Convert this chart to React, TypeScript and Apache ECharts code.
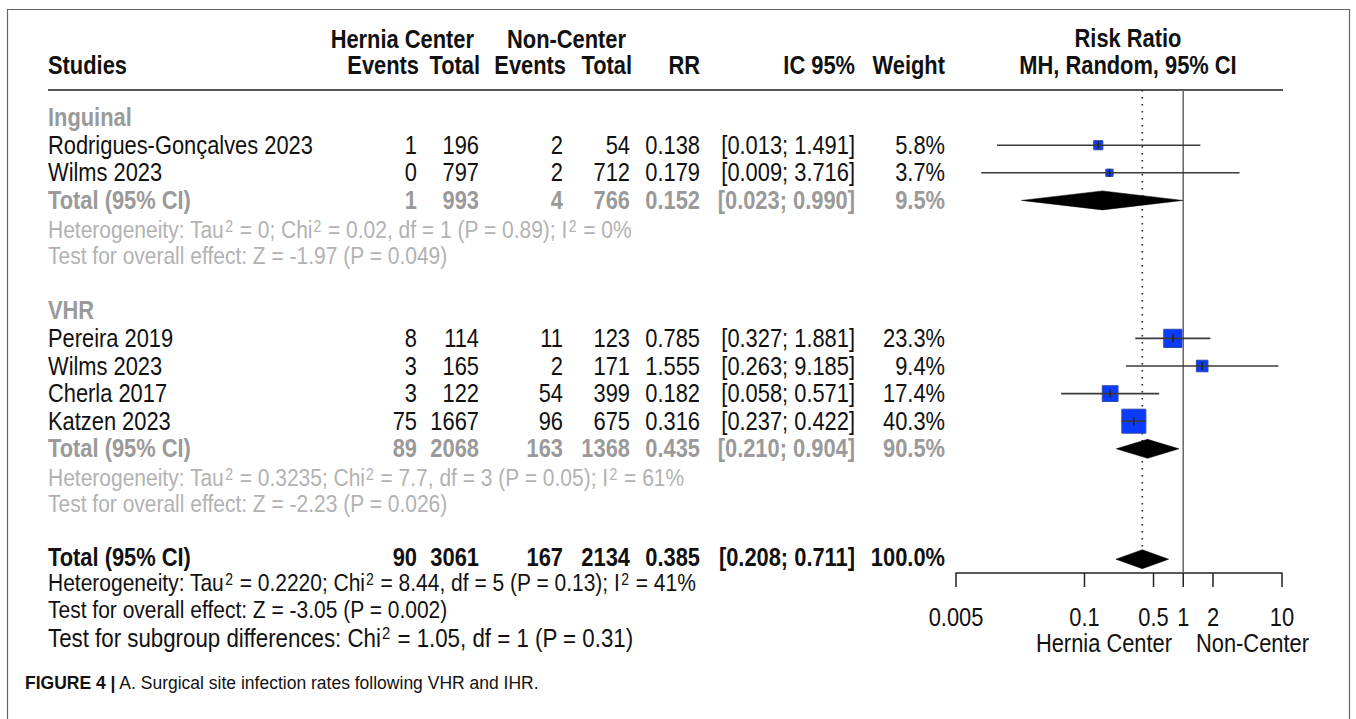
import React, { useEffect, useRef } from "react";
import * as echarts from "echarts";

// ---------------- data ----------------
const groupNames = ["Inguinal", "VHR"];

const studyNames = ["Rodrigues-Gonçalves 2023", "Wilms 2023", "Pereira 2019", "Wilms 2023", "Cherla 2017", "Katzen 2023"];
const studyGroup = [0, 0, 1, 1, 1, 1];
const hcEvents = [1, 0, 8, 3, 3, 75];
const hcTotal = [196, 797, 114, 165, 122, 1667];
const ncEvents = [2, 2, 11, 2, 54, 96];
const ncTotal = [54, 712, 123, 171, 399, 675];
const studyRR = [0.138, 0.179, 0.785, 1.555, 0.182, 0.316];
const studyLow = [0.013, 0.009, 0.327, 0.263, 0.058, 0.237];
const studyHigh = [1.491, 3.716, 1.881, 9.185, 0.571, 0.422];
const studyWeight = [5.8, 3.7, 23.3, 9.4, 17.4, 40.3];

const subHcEvents = [1, 89];
const subHcTotal = [993, 2068];
const subNcEvents = [4, 163];
const subNcTotal = [766, 1368];
const subRR = [0.152, 0.435];
const subLow = [0.023, 0.21];
const subHigh = [0.99, 0.904];
const subWeight = [9.5, 90.5];
const subHetero = [
  "Heterogeneity: Tau² = 0; Chi² = 0.02, df = 1 (P = 0.89); I² = 0%",
  "Heterogeneity: Tau² = 0.3235; Chi² = 7.7, df = 3 (P = 0.05); I² = 61%",
];
const subTest = ["Test for overall effect: Z = -1.97 (P = 0.049)", "Test for overall effect: Z = -2.23 (P = 0.026)"];

const totHcEvents = 90;
const totHcTotal = 3061;
const totNcEvents = 167;
const totNcTotal = 2134;
const totRR = 0.385;
const totLow = 0.208;
const totHigh = 0.711;
const totWeight = 100.0;
const totNotes = [
  "Heterogeneity: Tau² = 0.2220; Chi² = 8.44, df = 5 (P = 0.13); I² = 41%",
  "Test for overall effect: Z = -3.05 (P = 0.002)",
  "Test for subgroup differences: Chi² = 1.05, df = 1 (P = 0.31)",
];

const tickValues = [0.005, 0.1, 0.5, 1, 2, 10];
const tickLabels = ["0.005", "0.1", "0.5", "1", "2", "10"];
const favourLeft = "Hernia Center";
const favourRight = "Non-Center";
const caption = ["FIGURE 4 |", " A. Surgical site infection rates following VHR and IHR."];

// ---------------- layout ----------------
const FONT = '"Liberation Sans", Arial, Helvetica, sans-serif';
const BLACK = "#111111";
const GREY = "#9a9a9a";
const LIGHT = "#b2b2b2";
const FS = 25;
const FS_SMALL = 24;
const SX = 0.875; // the figure is horizontally condensed

const PLOT_LEFT = 956;
const PLOT_RIGHT = 1282;
const PLOT_TOP = 90;
const ROW_H = 27.6;
const Y_MIN = -1;
const Y_MAX = 16.5;
const rowY = (k: number) => PLOT_TOP + (k - Y_MIN) * ROW_H;

const TEXT_LEFT = 48;
const COL_E1 = 417;
const COL_T1 = 479;
const COL_E2 = 563;
const COL_T2 = 630;
const COL_RR = 700;
const COL_CI = 855;
const COL_W = 945;
const PLOT_CENTER = 1128;

function t(x: number, y: number, text: string, o: any = {}) {
  const align = o.align || "left";
  const size = o.size || FS;
  const fill = o.color || BLACK;
  const hasSup = text.indexOf("²") >= 0;
  const style: any = {
    text: hasSup ? text.replace(/²/g, "{s|2}") : text,
    fill,
    fontSize: size,
    fontFamily: FONT,
    fontWeight: o.bold ? "bold" : "normal",
    textAlign: align,
    align,
    textVerticalAlign: "middle",
    verticalAlign: "middle",
  };
  if (hasSup) {
    style.rich = {
      s: {
        fontSize: Math.round(size * 0.66),
        fontFamily: FONT,
        fill,
        verticalAlign: "top",
        padding: [0, 1, 0, 1],
      },
    };
  }
  return { type: "text", x, y, scaleX: o.sx === undefined ? SX : o.sx, silent: true, z: 10, style };
}

function measure(text: string, font: string) {
  const c = document.createElement("canvas").getContext("2d");
  if (!c) return text.length * 9;
  c.font = font;
  return c.measureText(text).width;
}

const ci = (l: number, h: number) => `[${l.toFixed(3)}; ${h.toFixed(3)}]`;

export default function App() {
  const ref = useRef<HTMLDivElement>(null);
  useEffect(() => {
    if (!ref.current) return;
    const chart = echarts.init(ref.current, null, { renderer: "svg" });

    const studyRow: number[] = [];
    const subRow: number[] = [];
    const graphics: any[] = [];
    let k = 0;
    groupNames.forEach((g, gi) => {
      graphics.push(t(TEXT_LEFT, rowY(k), g, { bold: true, color: GREY }));
      k++;
      studyNames.forEach((n, i) => {
        if (studyGroup[i] !== gi) return;
        studyRow[i] = k;
        const y = rowY(k);
        graphics.push(t(TEXT_LEFT, y, n));
        graphics.push(t(COL_E1, y, String(hcEvents[i]), { align: "right" }));
        graphics.push(t(COL_T1, y, String(hcTotal[i]), { align: "right" }));
        graphics.push(t(COL_E2, y, String(ncEvents[i]), { align: "right" }));
        graphics.push(t(COL_T2, y, String(ncTotal[i]), { align: "right" }));
        graphics.push(t(COL_RR, y, studyRR[i].toFixed(3), { align: "right" }));
        graphics.push(t(COL_CI, y, ci(studyLow[i], studyHigh[i]), { align: "right" }));
        graphics.push(t(COL_W, y, studyWeight[i].toFixed(1) + "%", { align: "right" }));
        k++;
      });
      subRow[gi] = k;
      const y = rowY(k);
      const o = { bold: true, color: GREY, align: "right" };
      graphics.push(t(TEXT_LEFT, y, "Total (95% CI)", { bold: true, color: GREY }));
      graphics.push(t(COL_E1, y, String(subHcEvents[gi]), o));
      graphics.push(t(COL_T1, y, String(subHcTotal[gi]), o));
      graphics.push(t(COL_E2, y, String(subNcEvents[gi]), o));
      graphics.push(t(COL_T2, y, String(subNcTotal[gi]), o));
      graphics.push(t(COL_RR, y, subRR[gi].toFixed(3), o));
      graphics.push(t(COL_CI, y, ci(subLow[gi], subHigh[gi]), o));
      graphics.push(t(COL_W, y, subWeight[gi].toFixed(1) + "%", o));
      k++;
      graphics.push(t(TEXT_LEFT, rowY(k) + 2, subHetero[gi], { color: LIGHT, size: FS_SMALL }));
      k++;
      graphics.push(t(TEXT_LEFT, rowY(k), subTest[gi], { color: LIGHT, size: FS_SMALL }));
      k += 2;
    });
    const totRow = k;
    {
      const y = rowY(totRow) - 2;
      const o = { bold: true, align: "right" };
      graphics.push(t(TEXT_LEFT, y, "Total (95% CI)", { bold: true }));
      graphics.push(t(COL_E1, y, String(totHcEvents), o));
      graphics.push(t(COL_T1, y, String(totHcTotal), o));
      graphics.push(t(COL_E2, y, String(totNcEvents), o));
      graphics.push(t(COL_T2, y, String(totNcTotal), o));
      graphics.push(t(COL_RR, y, totRR.toFixed(3), o));
      graphics.push(t(COL_CI, y, ci(totLow, totHigh), o));
      graphics.push(t(COL_W, y, totWeight.toFixed(1) + "%", o));
    }
    const noteY = [583, 610, 638];
    const noteSize = [FS_SMALL, FS_SMALL, 25.5];
    totNotes.forEach((n, i) => graphics.push(t(TEXT_LEFT, noteY[i], n, { size: noteSize[i] })));

    // header
    graphics.push(t(474, 39, "Hernia Center", { bold: true, align: "right" }));
    graphics.push(t(626, 39, "Non-Center", { bold: true, align: "right" }));
    graphics.push(t(PLOT_CENTER, 38, "Risk Ratio", { bold: true, align: "center" }));
    graphics.push(t(TEXT_LEFT, 65, "Studies", { bold: true }));
    graphics.push(t(COL_E1 + 2, 65, "Events", { bold: true, align: "right" }));
    graphics.push(t(COL_T1 + 1, 65, "Total", { bold: true, align: "right" }));
    graphics.push(t(COL_E2 + 3, 65, "Events", { bold: true, align: "right" }));
    graphics.push(t(COL_T2 + 2, 65, "Total", { bold: true, align: "right" }));
    graphics.push(t(COL_RR, 65, "RR", { bold: true, align: "right" }));
    graphics.push(t(COL_CI, 65, "IC 95%", { bold: true, align: "right" }));
    graphics.push(t(COL_W, 65, "Weight", { bold: true, align: "right" }));
    graphics.push(t(PLOT_CENTER, 65, "MH, Random, 95% CI", { bold: true, align: "center" }));

    graphics.push({
      type: "line",
      silent: true,
      shape: { x1: TEXT_LEFT, y1: PLOT_TOP, x2: PLOT_RIGHT + 1, y2: PLOT_TOP },
      style: { stroke: "#555", lineWidth: 2 },
    });

    graphics.push(t(1172, 643, favourLeft, { align: "right" }));
    graphics.push(t(1196, 643, favourRight, { align: "left" }));

    graphics.push({
      type: "rect",
      silent: true,
      shape: { x: 7.5, y: 9.5, width: 1342, height: 800 },
      style: { fill: "none", stroke: "#666", lineWidth: 1.2 },
    });

    const capFS = 17.5;
    const w0 = measure(caption[0], `bold ${capFS}px ${FONT}`);
    graphics.push(t(25, 683, caption[0], { bold: true, size: capFS, sx: 1 }));
    graphics.push(t(25 + w0, 683, caption[1], { size: capFS, sx: 1 }));

    const studyData = studyNames.map((_, i) => [studyRR[i], studyRow[i], studyLow[i], studyHigh[i], studyWeight[i]]);
    const diamondData = [
      ...groupNames.map((_, gi) => [subRR[gi], subRow[gi], subLow[gi], subHigh[gi]]),
      [totRR, totRow, totLow, totHigh],
    ];
    const maxW = Math.max(...studyWeight);
    const DIAMOND_HALF = 9.5;

    const option: any = {
      animation: false,
      backgroundColor: "#ffffff",
      grid: {
        left: PLOT_LEFT,
        width: PLOT_RIGHT - PLOT_LEFT,
        top: PLOT_TOP,
        height: (Y_MAX - Y_MIN) * ROW_H,
        containLabel: false,
      },
      xAxis: {
        type: "log",
        logBase: 10,
        min: 0.005,
        max: 10,
        position: "bottom",
        axisLine: { show: true, onZero: false, lineStyle: { color: "#222", width: 1.5 } },
        axisTick: { show: false },
        axisLabel: { show: false },
        splitLine: { show: false },
      },
      yAxis: { type: "value", min: Y_MIN, max: Y_MAX, inverse: true, show: false, splitLine: { show: false } },
      graphic: { elements: graphics },
      series: [
        {
          type: "line",
          silent: true,
          symbol: "none",
          data: [
            [1, Y_MIN],
            [1, Y_MAX],
          ],
          lineStyle: { color: "#666", width: 1.5 },
          z: 1,
        },
        {
          type: "line",
          silent: true,
          symbol: "none",
          data: [
            [totRR, Y_MIN],
            [totRR, totRow - DIAMOND_HALF / ROW_H],
          ],
          lineStyle: { color: "#222", width: 1.6, type: [1.6, 5.4] },
          z: 1,
        },
        {
          type: "custom",
          silent: true,
          z: 3,
          data: studyData,
          encode: { x: [0, 2, 3], y: 1 },
          renderItem: (params: any, api: any) => {
            const y = api.value(1);
            const c = api.coord([api.value(0), y]);
            const l = api.coord([api.value(2), y]);
            const h = api.coord([api.value(3), y]);
            const s = 24 * Math.sqrt(api.value(4) / maxW);
            return {
              type: "group",
              children: [
                {
                  type: "rect",
                  shape: { x: c[0] - s / 2, y: c[1] - s / 2, width: s, height: s },
                  style: { fill: "#0a3cff", stroke: "#3048a8", lineWidth: 1 },
                },
                {
                  type: "line",
                  shape: { x1: l[0], y1: l[1], x2: h[0], y2: h[1] },
                  style: { stroke: "#3a3a3a", lineWidth: 1.6 },
                },
                {
                  type: "line",
                  shape: { x1: c[0], y1: c[1] - 4, x2: c[0], y2: c[1] + 4 },
                  style: { stroke: "#222", lineWidth: 1.5 },
                },
              ],
            };
          },
        },
        {
          type: "custom",
          silent: true,
          z: 3,
          data: diamondData,
          encode: { x: [0, 2, 3], y: 1 },
          renderItem: (params: any, api: any) => {
            const y = api.value(1);
            const c = api.coord([api.value(0), y]);
            const l = api.coord([api.value(2), y]);
            const h = api.coord([api.value(3), y]);
            return {
              type: "polygon",
              shape: {
                points: [
                  [l[0], c[1]],
                  [c[0], c[1] - DIAMOND_HALF],
                  [h[0], c[1]],
                  [c[0], c[1] + DIAMOND_HALF],
                ],
              },
              style: { fill: "#000", stroke: "#000", lineWidth: 0.5 },
            };
          },
        },
        {
          type: "custom",
          silent: true,
          z: 3,
          data: tickValues.map((v, i) => [v, Y_MAX, i]),
          encode: { x: 0, y: 1 },
          renderItem: (params: any, api: any) => {
            const p = api.coord([api.value(0), api.value(1)]);
            const label = tickLabels[api.value(2)];
            return {
              type: "group",
              children: [
                {
                  type: "line",
                  shape: { x1: p[0], y1: p[1], x2: p[0], y2: p[1] + 14 },
                  style: { stroke: "#222", lineWidth: 1.5 },
                },
                {
                  type: "text",
                  x: p[0],
                  y: p[1] + 44,
                  scaleX: SX,
                  style: {
                    text: label,
                    fill: BLACK,
                    fontSize: FS,
                    fontFamily: FONT,
                    textAlign: "center",
                    align: "center",
                    textVerticalAlign: "middle",
                    verticalAlign: "middle",
                  },
                },
              ],
            };
          },
        },
      ],
    };
    chart.setOption(option);
    return () => chart.dispose();
  }, []);
  return (
    <div
      ref={ref}
      style={{ position: "fixed", left: 0, top: 0, width: 1356, height: 719, background: "#fff" }}
    />
  );
}
